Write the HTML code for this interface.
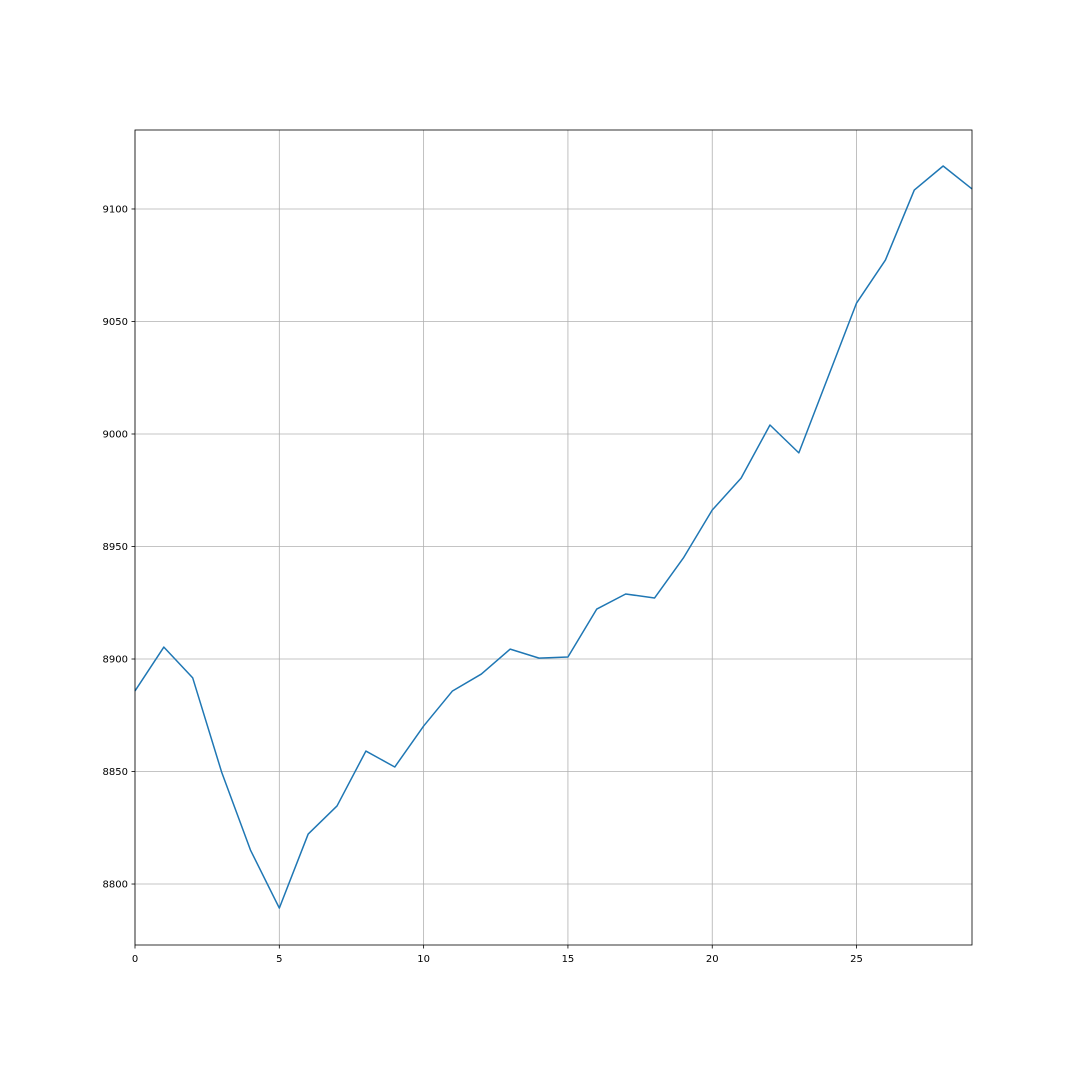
<!DOCTYPE html>
<html>
<head>
<meta charset="utf-8">
<style>
html,body{margin:0;padding:0;background:#fff;}
svg{display:block;font-family:"DejaVu Sans","Liberation Sans",sans-serif;}
</style>
</head>
<body>
<svg id="chart" width="1080" height="1080" viewBox="0 0 1080 1080" xmlns="http://www.w3.org/2000/svg">
<rect x="0" y="0" width="1080" height="1080" fill="#fff"/>
</svg>
<script>
const xValues = [0,1,2,3,4,5,6,7,8,9,10,11,12,13,14,15,16,17,18,19,20,21,22,23,24,25,26,27,28,29];
const yValues = [8885.8,8905.3,8891.6,8849.8,8815.1,8789.3,8822.2,8834.7,8859.1,8852,8870.2,8885.8,8893.3,8904.4,8900.4,8900.9,8922.2,8928.9,8927.1,8944.9,8966.2,8980.4,9004,8991.6,9024.9,9058.2,9077.3,9108.4,9119.1,9108.9];
const xTicks = [0,5,10,15,20,25];
const yTicks = [8800,8850,8900,8950,9000,9050,9100];

const L=135,R=972,T=130,B=945;
const xMin=0,xMax=29,yMin=8772.9,yMax=9135.1;
const sx=v=>L+(v-xMin)/(xMax-xMin)*(R-L);
const sy=v=>B-(v-yMin)/(yMax-yMin)*(B-T);
const svg=document.getElementById('chart');
const NS='http://www.w3.org/2000/svg';
function mk(tag,attrs){const e=document.createElementNS(NS,tag);for(const k in attrs)e.setAttribute(k,attrs[k]);svg.appendChild(e);return e;}

xTicks.forEach(t=>{
  const g=mk('line',{x1:sx(t),x2:sx(t),y1:T,y2:B,stroke:'#b0b0b0','stroke-width':0.8});
  
  
  const tk=mk('line',{x1:sx(t),x2:sx(t),y1:B,y2:B+3.5,stroke:'#000','stroke-width':0.8});
  
  
  const tx=mk('text',{x:sx(t),y:B+17,'text-anchor':'middle','font-size':10,fill:'#000'});
  tx.textContent=t;
  
  
});
yTicks.forEach(t=>{
  const g=mk('line',{x1:L,x2:R,y1:sy(t),y2:sy(t),stroke:'#b0b0b0','stroke-width':0.8});
  
  
  const tk=mk('line',{x1:L-3.5,x2:L,y1:sy(t),y2:sy(t),stroke:'#000','stroke-width':0.8});
  
  
  const tx=mk('text',{x:L-7,y:sy(t)+3.5,'text-anchor':'end','font-size':10,fill:'#000'});
  tx.textContent=t;
  
  
});

const pts=xValues.map((x,i)=>sx(x).toFixed(2)+','+sy(yValues[i]).toFixed(2)).join(' ');
const line=mk('polyline',{points:pts,fill:'none',stroke:'#1f77b4','stroke-width':1.5,'stroke-linejoin':'round'});



const frame=mk('rect',{x:L,y:T,width:R-L,height:B-T,fill:'none',stroke:'#000','stroke-width':0.8});


</script>
</body>
</html>
